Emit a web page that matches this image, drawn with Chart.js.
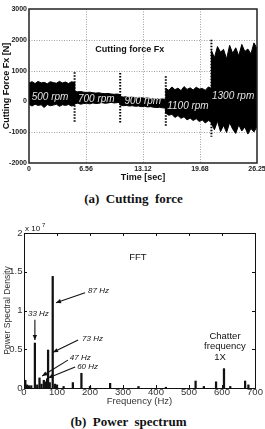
<!DOCTYPE html>
<html>
<head>
<meta charset="utf-8">
<script src="https://cdn.jsdelivr.net/npm/chart.js@4.4.0/dist/chart.umd.min.js"></script>
<style>
  body { margin: 0; width: 265px; height: 429px; background: #fff; position: relative; overflow: hidden; }
  #forceChart { position: absolute; left: 0; top: 0; }
  #fftChart { position: absolute; left: 0; top: 215px; }
  .caption { position: absolute; width: 265px; text-align: center; font-family: "Liberation Serif", "Times New Roman", serif; font-weight: bold; font-size: 13px; color: #111; white-space: pre; }
</style>
</head>
<body>
<canvas id="forceChart" width="265" height="185"></canvas>
<div class="caption" style="left:1px; top:191px">(a)  Cutting  force</div>
<canvas id="fftChart" width="265" height="195"></canvas>
<div class="caption" style="left:-4px; top:414px">(b)  Power  spectrum</div>

<script>
// ---- cutting force (top) ----
const timeTicks = [0, 6.56, 13.12, 19.68, 26.25];
const timeTickLabels = ['0', '6.56', '13.12', '19.68', '26.25'];
const forceTicks = [-2000, -1000, 0, 1000, 2000, 3000];

const times = [
  0, 0.35, 0.7, 1.05, 1.4, 1.75, 2.1, 2.45, 2.8, 3.15, 3.5, 3.85, 4.2, 4.55, 4.9, 5.25,
  5.25, 5.6, 5.95, 6.3, 6.65, 7, 7.35, 7.7, 8.05, 8.4, 8.75, 9.1, 9.45, 9.8, 10.15, 10.5,
  10.5, 10.85, 11.2, 11.55, 11.9, 12.25, 12.6, 12.95, 13.3, 13.65, 14, 14.35, 14.7, 15.05, 15.4, 15.75,
  15.75, 16.1, 16.45, 16.8, 17.15, 17.5, 17.85, 18.2, 18.55, 18.9, 19.25, 19.6, 19.95, 20.3, 20.65, 21,
  21, 21.35, 21.7, 22.05, 22.4, 22.75, 23.1, 23.45, 23.8, 24.15, 24.5, 24.85, 25.2, 25.55, 25.9, 26.25
];
// envelope of the force signal (N)
const upperForce = [
  600, 640, 580, 650, 600, 620, 570, 640, 610, 590, 650, 600, 630, 580, 640, 610,
  330, 310, 320, 300, 290, 300, 280, 270, 280, 260, 250, 260, 240, 230, 240, 220,
  160, 140, 150, 130, 140, 120, 110, 120, 100, 110, 90, 80, 90, 70, 80, 60,
  420, 360, 470, 380, 430, 350, 480, 390, 440, 370, 460, 400, 420, 360, 470, 420,
  1650, 1420, 1780, 1600, 1690, 1380, 1820, 1560, 1740, 1480, 1850, 1620, 1700, 1540, 1900, 1720
];
const lowerForce = [
  -100, -150, -90, -130, -110, -200, -100, -140, -120, -90, -160, -110, -130, -100, -150, -120,
  -80, -60, -90, -70, -60, -80, -50, -70, -60, -40, -60, -50, -30, -50, -40, -30,
  -120, -140, -130, -150, -140, -160, -150, -170, -160, -180, -170, -190, -200, -190, -210, -220,
  -380, -450, -420, -520, -460, -550, -500, -600, -540, -620, -560, -650, -600, -700, -620, -680,
  -720, -920, -640, -980, -780, -1010, -690, -900, -1040, -760, -960, -830, -1060, -880, -990, -820
];

const boundaryTimes = [5.25, 10.5, 15.75, 21];
const boundaryTop = [950, 920, 820, 2000];
const boundaryBottom = [-670, -700, -800, -1150];

const rpmLabels = ['500 rpm', '700 rpm', '900 rpm', '1100 rpm', '1300 rpm'];
const rpmLabelTimes = [2.42, 7.75, 13.1, 18.3, 23.5];
const rpmLabelForces = [140, 80, 10, -150, 170];

// ---- power spectrum (bottom) ----
const freqTicks = [0, 100, 200, 300, 400, 500, 600, 700];
const psdTicks = [0, 0.5, 1, 1.5, 2];
const psdTickLabels = ['0', '0.5', '1', '1.5', '2'];
const freqs = [4, 9, 15, 22, 33, 40, 47, 53, 60, 65, 70, 73, 78, 87, 94, 100, 120, 148, 174, 200,
  261, 347, 430, 520, 545, 582, 606, 625, 670, 680];
const psd = [0.1, 0.04, 0.03, 0.03, 0.58, 0.04, 0.13, 0.05, 0.1, 0.08, 0.12, 0.49, 0.07, 1.44, 0.05, 0.04, 0.02, 0.07, 0.19, 0.02,
  0.06, 0.02, 0.01, 0.09, 0.02, 0.08, 0.25, 0.02, 0.09, 0.04];

const peakNotes = ['87 Hz', '33 Hz', '73 Hz', '47 Hz', '60 Hz'];
const noteAt = [[194, 1.25], [12, 0.955], [176, 0.63], [139, 0.39], [161, 0.28]];
const arrowFrom = [[185, 1.23], [33, 0.88], [164, 0.62], [133, 0.36], [155, 0.27]];
const arrowTo = [[97, 1.10], [33, 0.62], [88, 0.46], [55, 0.155], [73, 0.13]];

Chart.defaults.font.family = '"Liberation Sans", Arial, sans-serif';
Chart.defaults.color = '#222';
Chart.defaults.animation = false;

function drawLine(ctx, x0, y0, x1, y1) {
  ctx.beginPath(); ctx.moveTo(x0, y0); ctx.lineTo(x1, y1); ctx.stroke();
}

function drawArrow(ctx, x0, y0, x1, y1) {
  drawLine(ctx, x0, y0, x1, y1);
  const ang = Math.atan2(y1 - y0, x1 - x0);
  const len = 5, w = 2.2;
  ctx.beginPath();
  ctx.moveTo(x1, y1);
  ctx.lineTo(x1 - len * Math.cos(ang) + w * Math.sin(ang), y1 - len * Math.sin(ang) - w * Math.cos(ang));
  ctx.lineTo(x1 - len * Math.cos(ang) - w * Math.sin(ang), y1 - len * Math.sin(ang) + w * Math.cos(ang));
  ctx.closePath(); ctx.fill();
}

const forceDecor = {
  id: 'forceDecor',
  beforeDatasetsDraw(chart) {
    const { ctx, chartArea: a, scales } = chart;
    ctx.save();
    ctx.strokeStyle = '#8a8a8a';
    ctx.lineWidth = 0.8;
    ctx.setLineDash([1, 1.5]);
    timeTicks.slice(1, -1).forEach(t => {
      const x = Math.round(scales.x.getPixelForValue(t)) + 0.5;
      drawLine(ctx, x, a.top, x, a.bottom);
    });
    forceTicks.slice(1, -1).forEach(v => {
      const y = Math.round(scales.y.getPixelForValue(v)) + 0.5;
      drawLine(ctx, a.left, y, a.right, y);
    });
    ctx.restore();
  },
  afterDatasetsDraw(chart) {
    const { ctx, chartArea: a, scales } = chart;
    ctx.save();
    ctx.font = 'italic 10px "Liberation Sans", Arial, sans-serif';
    ctx.fillStyle = '#e4e4e4';
    ctx.textAlign = 'center';
    ctx.textBaseline = 'middle';
    rpmLabels.forEach((s, i) => {
      ctx.fillText(s, scales.x.getPixelForValue(rpmLabelTimes[i]), scales.y.getPixelForValue(rpmLabelForces[i]));
    });
    ctx.font = 'bold 9px "Liberation Sans", Arial, sans-serif';
    ctx.fillStyle = '#111';
    ctx.fillText('Cutting force Fx', scales.x.getPixelForValue(11.6), scales.y.getPixelForValue(1670));
    ctx.strokeStyle = '#222';
    ctx.lineWidth = 1.5;
    ctx.strokeRect(a.left, a.top, a.right - a.left, a.bottom - a.top);
    ctx.restore();
  }
};

const fftDecor = {
  id: 'fftDecor',
  afterDatasetsDraw(chart) {
    const { ctx, chartArea: a, scales } = chart;
    const px = (f) => scales.x.getPixelForValue(f);
    const py = (v) => scales.y.getPixelForValue(v);
    ctx.save();
    ctx.strokeStyle = '#111';
    ctx.fillStyle = '#111';
    ctx.lineWidth = 1;
    ctx.strokeRect(a.left + 0.5, a.top + 0.5, a.right - a.left, a.bottom - a.top);
    // inward tick marks on all sides
    freqTicks.forEach(f => {
      const x = Math.round(px(f)) + 0.5;
      drawLine(ctx, x, a.bottom, x, a.bottom - 3);
      drawLine(ctx, x, a.top, x, a.top + 3);
    });
    psdTicks.forEach(v => {
      const y = Math.round(py(v)) + 0.5;
      drawLine(ctx, a.left, y, a.left + 3, y);
      drawLine(ctx, a.right, y, a.right - 3, y);
    });
    // arrows and peak notes
    ctx.lineWidth = 1.1;
    arrowFrom.forEach((p, i) => {
      drawArrow(ctx, px(p[0]), py(p[1]), px(arrowTo[i][0]), py(arrowTo[i][1]));
    });
    ctx.font = 'italic 8px "Liberation Sans", Arial, sans-serif';
    ctx.textAlign = 'left';
    ctx.textBaseline = 'middle';
    peakNotes.forEach((s, i) => ctx.fillText(s, px(noteAt[i][0]), py(noteAt[i][1])));
    ctx.font = '9.5px "Liberation Sans", Arial, sans-serif';
    ctx.textAlign = 'center';
    ctx.fillText('FFT', px(345), py(1.69));
    ctx.fillText('Chatter', px(609), py(0.67));
    ctx.fillText('frequency', px(609), py(0.54));
    ctx.fillText('1X', px(594), py(0.39));
    // exponent
    ctx.textAlign = 'left';
    ctx.font = '8px "Liberation Sans", Arial, sans-serif';
    ctx.fillText('x 10', a.left + 1, a.top - 4);
    ctx.font = '6px "Liberation Sans", Arial, sans-serif';
    ctx.fillText('7', a.left + 18, a.top - 8);
    ctx.restore();
  }
};

const boundarySets = boundaryTimes.map((t, i) => ({
  data: [{ x: t, y: boundaryTop[i] }, { x: t, y: boundaryBottom[i] }],
  borderColor: '#000',
  borderWidth: 2,
  borderDash: [1.5, 1.5],
  pointRadius: 0,
  fill: false
}));

new Chart(document.getElementById('forceChart'), {
  type: 'line',
  data: {
    datasets: [
      {
        data: times.map((t, i) => ({ x: t, y: upperForce[i] })),
        borderColor: '#000', borderWidth: 1, pointRadius: 0, tension: 0, fill: false
      },
      {
        data: times.map((t, i) => ({ x: t, y: lowerForce[i] })),
        borderColor: '#000', borderWidth: 1, pointRadius: 0, tension: 0,
        fill: '-1', backgroundColor: '#000'
      },
      ...boundarySets
    ]
  },
  options: {
    responsive: false,
    layout: { padding: { left: 0, right: 8, top: 9, bottom: 0 } },
    plugins: { legend: { display: false }, tooltip: { enabled: false } },
    scales: {
      x: {
        type: 'linear', min: 0, max: 26.25,
        grid: { display: false, drawTicks: false },
        border: { display: false },
        afterBuildTicks: s => { s.ticks = timeTicks.map(v => ({ value: v })); },
        afterFit: s => { s.height = 22; s.paddingLeft = 0; s.paddingRight = 0; },
        ticks: {
          maxRotation: 0, autoSkip: false, padding: 2,
          font: { size: 7, weight: 'bold' }, color: '#222',
          callback: (v, i) => timeTickLabels[i]
        },
        title: { display: true, text: 'Time [sec]', font: { size: 9, weight: 'bold' }, color: '#111', padding: { top: 0, bottom: 2.5 } }
      },
      y: {
        min: -2000, max: 3000,
        grid: { display: false, drawTicks: false },
        border: { display: false },
        afterBuildTicks: s => { s.ticks = forceTicks.map(v => ({ value: v })); },
        afterFit: s => { s.width = 29; },
        ticks: { padding: 2, font: { size: 7, weight: 'bold' }, color: '#222', callback: (v, i) => String(forceTicks[i]) },
        title: { display: true, text: 'Cutting Force Fx [N]', font: { size: 9, weight: 'bold' }, color: '#111', padding: { top: 1.6, bottom: 0 } }
      }
    }
  },
  plugins: [forceDecor]
});

new Chart(document.getElementById('fftChart'), {
  type: 'bar',
  data: {
    datasets: [{
      data: freqs.map((f, i) => ({ x: f, y: psd[i] })),
      backgroundColor: '#111',
      barThickness: 1.6
    }]
  },
  options: {
    responsive: false,
    layout: { padding: { left: 0, right: 10, top: 18, bottom: 0 } },
    plugins: { legend: { display: false }, tooltip: { enabled: false } },
    scales: {
      x: {
        type: 'linear', min: 0, max: 700, offset: false,
        grid: { display: false, drawTicks: false },
        border: { display: false },
        afterBuildTicks: s => { s.ticks = freqTicks.map(v => ({ value: v })); },
        afterFit: s => { s.height = 22; s.paddingLeft = 0; s.paddingRight = 0; },
        ticks: { maxRotation: 0, autoSkip: false, padding: -1, font: { size: 9.5 }, color: '#333', callback: (v, i) => String(freqTicks[i]) },
        title: { display: true, text: 'Frequency (Hz)', font: { size: 9.5 }, color: '#333', padding: { top: 0, bottom: 2.5 } }
      },
      y: {
        min: 0, max: 2,
        grid: { display: false, drawTicks: false },
        border: { display: false },
        afterBuildTicks: s => { s.ticks = psdTicks.map(v => ({ value: v })); },
        afterFit: s => { s.width = 24; },
        ticks: { padding: 1.5, font: { size: 9.5 }, color: '#333', callback: (v, i) => psdTickLabels[i] },
        title: { display: true, text: 'Power Spectral Density', font: { size: 8.5 }, color: '#333', padding: { top: 2.9, bottom: 0 } }
      }
    }
  },
  plugins: [fftDecor]
});
</script>
</body>
</html>
